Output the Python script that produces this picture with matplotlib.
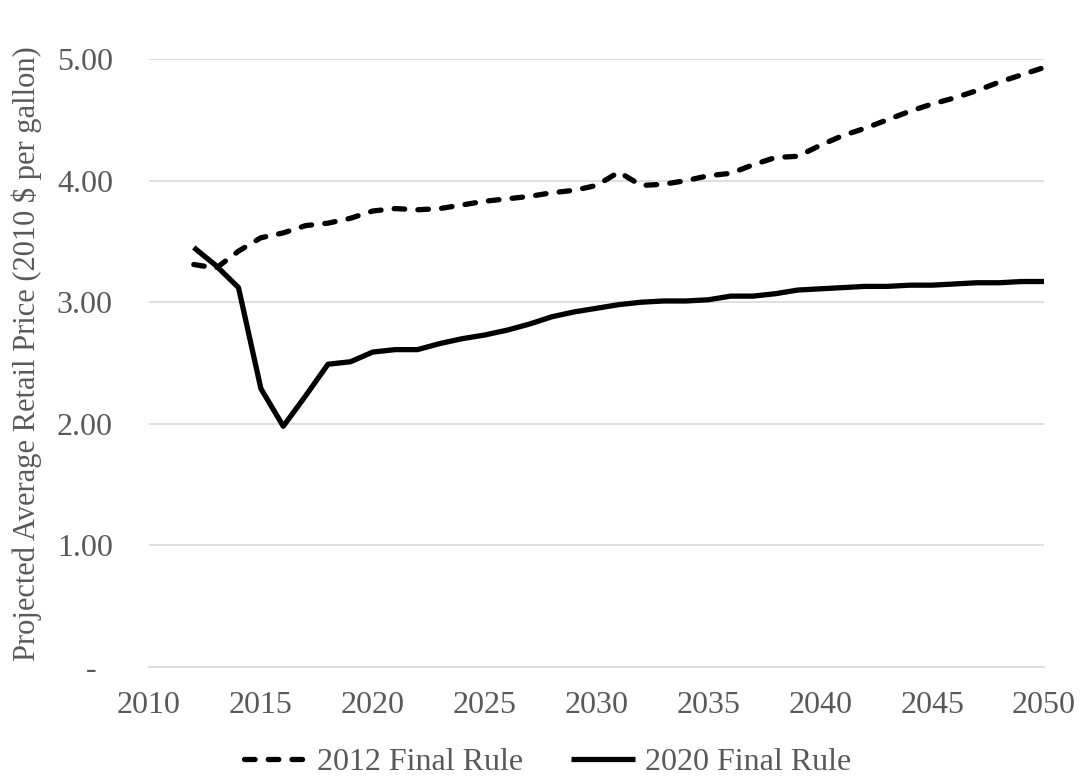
import matplotlib
matplotlib.use("Agg")
import matplotlib.pyplot as plt
from matplotlib.ticker import FixedLocator, FuncFormatter

years = list(range(2012, 2051))
rule_2012 = [3.31, 3.28, 3.42, 3.53, 3.57, 3.63, 3.65, 3.69, 3.75, 3.77,
             3.76, 3.77, 3.80, 3.83, 3.85, 3.87, 3.90, 3.92, 3.96, 4.07,
             3.96, 3.97, 4.00, 4.04, 4.06, 4.13, 4.19, 4.20, 4.29, 4.37,
             4.43, 4.50, 4.57, 4.63, 4.68, 4.74, 4.81, 4.87, 4.93]
rule_2020 = [3.45, 3.30, 3.12, 2.29, 1.98, 2.23, 2.49, 2.51, 2.59, 2.61,
             2.61, 2.66, 2.70, 2.73, 2.77, 2.82, 2.88, 2.92, 2.95, 2.98,
             3.00, 3.01, 3.01, 3.02, 3.05, 3.05, 3.07, 3.10, 3.11, 3.12,
             3.13, 3.13, 3.14, 3.14, 3.15, 3.16, 3.16, 3.17, 3.17]
x_ticks = [2010, 2015, 2020, 2025, 2030, 2035, 2040, 2045, 2050]
y_ticks = [0, 1, 2, 3, 4, 5]
series_labels = ["2012 Final Rule", "2020 Final Rule"]
y_label = "Projected Average Retail Price (2010 $ per gallon)"

plt.rcParams['font.family'] = ['Liberation Serif', 'DejaVu Serif']
FS = 23
TXT = "#595959"

fig = plt.figure(figsize=(10.81, 7.78), dpi=100)
ax = fig.add_axes([149/1081, 1 - 667/778, (1044-149)/1081, (667-59)/778])

ax.plot(years, rule_2012, color="black", lw=3.8, linestyle=(0, (2.0, 2.5)),
        dash_capstyle="round", label=series_labels[0])
ax.plot(years, rule_2020, color="black", lw=3.8, solid_capstyle="butt",
        label=series_labels[1])

ax.set_xlim(2010, 2050)
ax.set_ylim(0, 5)
ax.xaxis.set_major_locator(FixedLocator(x_ticks))
ax.yaxis.set_major_locator(FixedLocator(y_ticks))
ax.yaxis.set_major_formatter(FuncFormatter(lambda v, p: "-  " if v == 0 else f"{v:.2f}"))
ax.grid(axis="y", color="#d9d9d9", lw=1.2)
ax.set_axisbelow(True)
for s in ["top", "right", "left"]:
    ax.spines[s].set_visible(False)
ax.spines["bottom"].set_color("#d9d9d9")
ax.spines["bottom"].set_linewidth(1.2)
ax.tick_params(axis="both", length=0, labelsize=FS, labelcolor=TXT)
ax.tick_params(axis="x", pad=17)
ax.tick_params(axis="y", pad=26)
ax.set_ylabel(y_label, fontsize=22, color=TXT)
ax.yaxis.set_label_coords(-0.12, 0.515)

leg = fig.legend(loc="lower center", bbox_to_anchor=(0.5065, -0.036), ncol=2,
                 frameon=False, fontsize=FS, handlelength=2.0, handletextpad=0.3,
                 columnspacing=1.5)
for t in leg.get_texts():
    t.set_color(TXT)

fig.savefig("out.png", dpi=100)
